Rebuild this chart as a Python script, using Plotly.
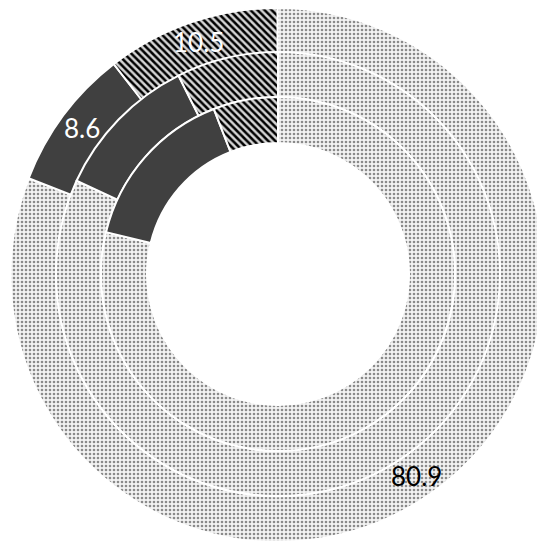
import math
import plotly.graph_objects as go

# data listed clockwise from 12 o'clock
categories = ["Series C", "Series B", "Series A"]
outer_values = [80.9, 8.6, 10.5]
middle_values = [81.9, 10.7, 7.4]
inner_values = [78.8, 15.3, 5.9]
outer_labels = ["80.9", "8.6", "10.5"]
label_colors = ["black", "white", "white"]

OFF = 8  # default body margin of the html page
W, H = 545 - OFF, 542 - OFF
CX, CY = 278 - OFF, 274 - OFF
radii = [268, 222, 177, 131]

def dom(r):
    x0 = max(0.0, (CX - r) / W)
    x1 = min(1.0, (CX + r) / W)
    y0 = max(0.0, 1 - (CY + r) / H)
    y1 = min(1.0, 1 - (CY - r) / H)
    return dict(x=[x0, x1], y=[y0, y1])

fills = ["#f3f3f3", "#404040", "#d4d4d4"]
marker = dict(
    colors=fills,
    line=dict(color="white", width=2),
    pattern=dict(
        shape=[".", "", "\\"],
        fgcolor=["#8a8a8a", "#404040", "#000000"],
        bgcolor=fills,
        size=[4, 4, 5],
        solidity=[0.33, 0.3, 0.5],
        fillmode="replace",
    ),
)

fig = go.Figure()
ring_vals = [outer_values, middle_values, inner_values]
for i, vals in enumerate(ring_vals):
    r_out, r_in = radii[i], radii[i + 1]
    fig.add_trace(go.Pie(
        labels=categories,
        values=vals,
        sort=False,
        direction="clockwise",
        rotation=0,
        hole=r_in / r_out,
        domain=dom(r_out),
        marker=marker,
        textinfo="none",
        showlegend=False,
        hoverinfo="label+value",
    ))

# data labels on the outer ring, at the middle of each slice
total = sum(outer_values)
r_lab = (radii[0] + radii[1]) / 2
cum = 0.0
for v, lab, col in zip(outer_values, outer_labels, label_colors):
    mid = (cum + v / 2) / total * 2 * math.pi
    cum += v
    px = CX + r_lab * math.sin(mid)
    py = CY - r_lab * math.cos(mid)
    fig.add_annotation(
        x=px / W, y=1 - py / H, xref="paper", yref="paper",
        text=lab, showarrow=False, xanchor="center", yanchor="middle",
        font=dict(family="Lato", size=26, color=col),
    )

fig.update_layout(
    width=W, height=H,
    margin=dict(l=0, r=0, t=0, b=0),
    paper_bgcolor="white",
    plot_bgcolor="white",
)
fig.write_html("out.html")
